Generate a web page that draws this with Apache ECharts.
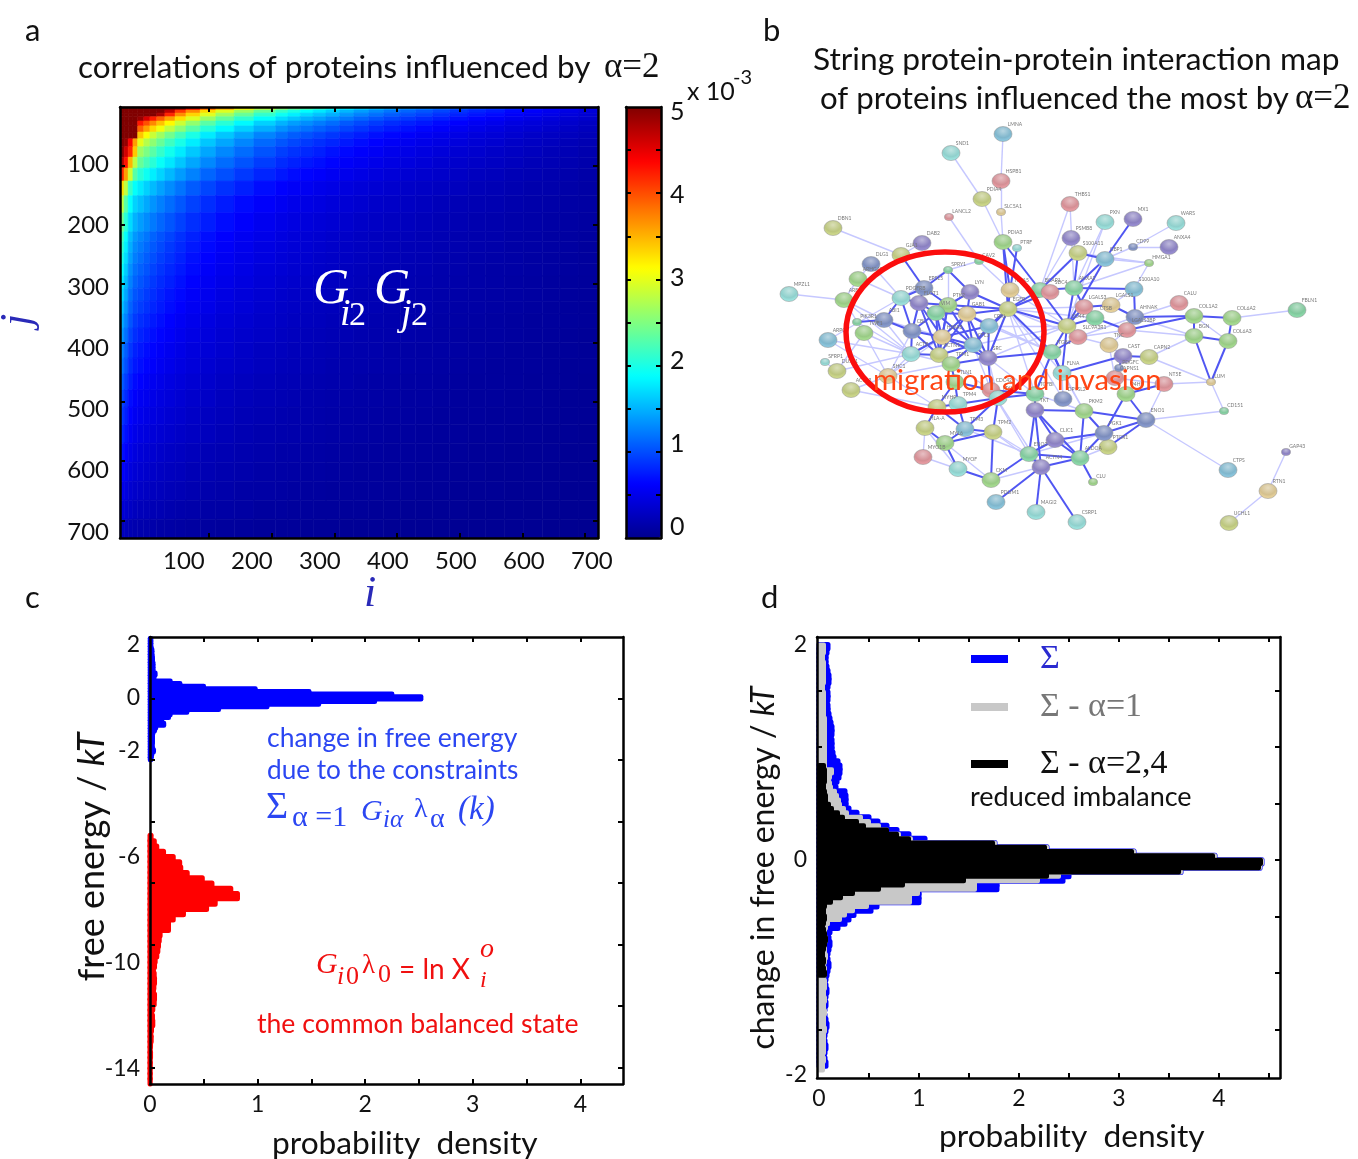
<!DOCTYPE html>
<html><head><meta charset="utf-8">
<style>html,body{margin:0;padding:0;background:#fff}#c{width:1358px;height:1159px}</style>
<script src="https://cdn.jsdelivr.net/npm/echarts@6/dist/echarts.min.js"></script>
</head><body><div id="c"></div>
<script>
const SANS='Lato, "Noto Sans", sans-serif', SERIF='"Liberation Serif", serif';
// ---------- panel a : cell edges (protein rank) and values (x 10^-3)
const iEdges=[6,12,18,25,32,41,50,60,72,87,103,124,147,174,203,235,253,271,290,309,329,350,372,394,418,441,466,491,518,544,572,600,627,653,681,709];
const jEdges=[6,11,16,22,29,37,47,58,71,88,106,127,151,179,210,226,244,262,282,302,323,344,367,391,416,442,468,496,525,555,586,617,648,679,710];
const corrMatrix=[
[5,5,5,5,5,5,5,5,5,4.92,4.44,3.96,3.55,3.17,2.83,2.57,2.4,2.26,2.11,1.97,1.82,1.68,1.56,1.44,1.34,1.25,1.15,1.06,.96,.89,.79,.72,.65,.58,.5],
[5,5,5,5,5,5,5,5,4.7,4.1,3.7,3.3,2.96,2.64,2.36,2.14,2,1.88,1.76,1.64,1.52,1.4,1.3,1.2,1.12,1.04,.96,.88,.8,.74,.66,.6,.54,.48,.42],
[5,5,5,5,5,5,5,4.8,4.2,3.69,3.33,2.97,2.66,2.38,2.12,1.93,1.8,1.69,1.58,1.48,1.37,1.26,1.17,1.08,1.01,.94,.86,.79,.72,.67,.59,.54,.49,.43,.38],
[5,5,5,5,4.88,4.56,4.24,3.92,3.6,3.28,2.96,2.64,2.37,2.11,1.89,1.71,1.6,1.5,1.41,1.31,1.22,1.12,1.04,.96,.9,.83,.77,.7,.64,.59,.53,.48,.43,.38,.34],
[5,5,5,5,4.27,3.99,3.71,3.43,3.15,2.87,2.59,2.31,2.07,1.85,1.65,1.5,1.4,1.32,1.23,1.15,1.06,.98,.91,.84,.78,.73,.67,.62,.56,.52,.46,.42,.38,.34,.29],
[5,5,5,5,3.9,3.6,3.31,3.06,2.81,2.56,2.31,2.06,1.85,1.65,1.48,1.34,1.25,1.18,1.1,1.03,.95,.88,.81,.75,.7,.65,.6,.55,.5,.46,.41,.38,.34,.3,.26],
[5,5,5,5,3.4,3.1,2.86,2.65,2.43,2.21,2,1.78,1.6,1.43,1.27,1.16,1.08,1.02,.95,.89,.82,.76,.7,.65,.6,.56,.52,.48,.43,.4,.36,.32,.29,.26,.23],
[5,4.9,4.4,3.6,3,2.76,2.57,2.38,2.18,1.99,1.79,1.6,1.44,1.28,1.14,1.04,.97,.91,.85,.8,.74,.68,.63,.58,.54,.5,.47,.43,.39,.36,.32,.29,.26,.23,.2],
[5,4.6,4.2,3.4,2.65,2.48,2.31,2.13,1.96,1.78,1.61,1.44,1.29,1.15,1.03,.93,.87,.82,.77,.71,.66,.61,.57,.52,.49,.45,.42,.38,.35,.32,.29,.26,.23,.21,.18],
[4.8,4.3,3.5,2.8,2.38,2.22,2.07,1.91,1.76,1.6,1.44,1.29,1.15,1.03,.92,.83,.78,.73,.69,.64,.59,.55,.51,.47,.44,.41,.37,.34,.31,.29,.26,.23,.21,.19,.16],
[4.2,3.6,2.9,2.3,2.07,1.94,1.8,1.67,1.53,1.39,1.26,1.12,1.01,.9,.8,.73,.68,.64,.6,.56,.52,.48,.44,.41,.38,.35,.33,.3,.27,.25,.22,.2,.18,.16,.14],
[3.3,2.8,2.15,1.89,1.77,1.65,1.54,1.42,1.31,1.19,1.07,.96,.86,.77,.68,.62,.58,.55,.51,.48,.44,.41,.38,.35,.32,.3,.28,.26,.23,.21,.19,.17,.16,.14,.12],
[2.8,2.3,1.89,1.66,1.56,1.45,1.35,1.25,1.15,1.05,.94,.84,.75,.67,.6,.55,.51,.48,.45,.42,.39,.36,.33,.31,.29,.27,.24,.22,.2,.19,.17,.15,.14,.12,.11],
[2.44,2.07,1.7,1.5,1.4,1.31,1.22,1.13,1.04,.94,.85,.76,.68,.61,.54,.49,.46,.43,.4,.38,.35,.32,.3,.28,.26,.24,.22,.2,.18,.17,.15,.14,.12,.11,.1],
[2.23,1.89,1.55,1.37,1.28,1.2,1.11,1.03,.95,.86,.78,.69,.62,.55,.5,.45,.42,.39,.37,.34,.32,.29,.27,.25,.24,.22,.2,.18,.17,.16,.14,.13,.11,.1,.09],
[2.12,1.8,1.48,1.3,1.22,1.14,1.06,.98,.9,.82,.74,.66,.59,.53,.47,.43,.4,.38,.35,.33,.3,.28,.26,.24,.22,.21,.19,.18,.16,.15,.13,.12,.11,.1,.08],
[2.01,1.71,1.41,1.24,1.16,1.08,1.01,.93,.86,.78,.7,.63,.56,.5,.45,.41,.38,.36,.33,.31,.29,.27,.25,.23,.21,.2,.18,.17,.15,.14,.13,.11,.1,.09,.08],
[1.91,1.62,1.33,1.17,1.1,1.03,.95,.88,.81,.74,.67,.59,.53,.48,.42,.39,.36,.34,.32,.3,.27,.25,.23,.22,.2,.19,.17,.16,.14,.13,.12,.11,.1,.09,.08],
[1.8,1.53,1.26,1.11,1.04,.97,.9,.83,.77,.7,.63,.56,.5,.45,.4,.36,.34,.32,.3,.28,.26,.24,.22,.2,.19,.18,.16,.15,.14,.13,.11,.1,.09,.08,.07],
[1.7,1.44,1.18,1.04,.98,.91,.85,.78,.72,.66,.59,.53,.47,.42,.38,.34,.32,.3,.28,.26,.24,.22,.21,.19,.18,.17,.15,.14,.13,.12,.11,.1,.09,.08,.07],
[1.59,1.35,1.11,.98,.92,.86,.8,.74,.68,.62,.56,.5,.44,.4,.35,.32,.3,.28,.26,.25,.23,.21,.2,.18,.17,.16,.14,.13,.12,.11,.1,.09,.08,.07,.06],
[1.48,1.26,1.04,.91,.85,.8,.74,.69,.63,.57,.52,.46,.41,.37,.33,.3,.28,.26,.25,.23,.21,.2,.18,.17,.16,.15,.13,.12,.11,.1,.09,.08,.08,.07,.06],
[1.38,1.17,.96,.85,.79,.74,.69,.64,.59,.53,.48,.43,.38,.34,.31,.28,.26,.24,.23,.21,.2,.18,.17,.16,.15,.14,.12,.11,.1,.1,.09,.08,.07,.06,.05],
[1.27,1.08,.89,.78,.73,.68,.64,.59,.54,.49,.44,.4,.36,.32,.28,.26,.24,.23,.21,.2,.18,.17,.16,.14,.13,.12,.12,.11,.1,.09,.08,.07,.06,.06,.05],
[1.19,1.01,.83,.73,.69,.64,.6,.55,.51,.46,.42,.37,.33,.3,.27,.24,.23,.21,.2,.18,.17,.16,.15,.14,.13,.12,.11,.1,.09,.08,.07,.07,.06,.05,.05],
[1.09,.92,.76,.67,.63,.58,.54,.5,.46,.42,.38,.34,.3,.27,.24,.22,.21,.19,.18,.17,.16,.14,.13,.12,.11,.11,.1,.09,.08,.08,.07,.06,.06,.05,.04],
[.98,.83,.68,.6,.56,.53,.49,.45,.42,.38,.34,.31,.27,.24,.22,.2,.19,.17,.16,.15,.14,.13,.12,.11,.1,.1,.09,.08,.07,.07,.06,.06,.05,.04,.04],
[.9,.77,.63,.55,.52,.48,.45,.42,.38,.35,.31,.28,.25,.22,.2,.18,.17,.16,.15,.14,.13,.12,.11,.1,.1,.09,.08,.07,.07,.06,.06,.05,.05,.04,.04],
[.82,.7,.57,.5,.47,.44,.41,.38,.35,.32,.29,.26,.23,.2,.18,.17,.16,.15,.14,.13,.12,.11,.1,.09,.09,.08,.07,.07,.06,.06,.05,.05,.04,.04,.03],
[.72,.61,.5,.44,.41,.38,.36,.33,.3,.28,.25,.22,.2,.18,.16,.14,.14,.13,.12,.11,.1,.09,.09,.08,.08,.07,.06,.06,.05,.05,.04,.04,.04,.03,.03],
[.64,.54,.44,.39,.37,.34,.32,.29,.27,.25,.22,.2,.18,.16,.14,.13,.12,.11,.11,.1,.09,.08,.08,.07,.07,.06,.06,.05,.05,.04,.04,.04,.03,.03,.03],
[.53,.45,.37,.33,.31,.29,.27,.25,.23,.21,.19,.17,.15,.13,.12,.11,.1,.09,.09,.08,.08,.07,.07,.06,.06,.05,.05,.04,.04,.04,.03,.03,.03,.02,.02],
[.42,.36,.3,.26,.24,.23,.21,.2,.18,.16,.15,.13,.12,.11,.09,.09,.08,.08,.07,.07,.06,.06,.05,.05,.04,.04,.04,.04,.03,.03,.03,.02,.02,.02,.02],
[.29,.25,.2,.18,.17,.16,.15,.13,.12,.11,.1,.09,.08,.07,.06,.06,.06,.05,.05,.05,.04,.04,.04,.03,.03,.03,.03,.02,.02,.02,.02,.02,.01,.01,.01]];
const heatTicks=[100,200,300,400,500,600,700];
const colorbarLabels=[0,1,2,3,4,5];
const colorbarTicks=[.5,1,1.5,2,2.5,3,3.5,4,4.5];
const jetColors=['#00008f','#0000ff','#0080ff','#00ffff','#80ff80','#ffff00','#ff8000','#ff0000','#800000'];
// ---------- panel b : STRING network
const netNodes=[['LMNA',1003,134],['SND1',951,153],['HSPB1',1001,181],['PDIA4',982,199],['SLC5A1',1001,212],['LANCL2',949,217],['PDIA3',1003,242],['PTRF',1017,248],['DAB2',922,243],['DBN1',833,228],['GJA1',901,255],['DLG1',871,264],['SPRY1',948,270],['CAV2',979,261],['ARHGAP1',858,279],['EPS15',924,288],['LYN',970,292],['MPZL1',789,294],['ARF6',844,300],['PDGFRB',901,298],['FLOT1',919,303],['PTK2',948,305],['VIM',936,313],['GAB1',967,314],['ITGA5',1010,290],['EGFR',1008,309],['BCAR1',1040,290],['SDC4',1050,292],['PIK3R1',857,322],['ABI1',884,320],['TWF1',864,333],['CBL',912,331],['CRKL',989,326],['ARPC2',828,340],['HSPA8',942,337],['CFL1',973,345],['ACTB',911,354],['ACTN1',939,355],['TPM1',951,364],['SRC',988,358],['SFRP1',825,362],['DUSP1',837,371],['SHC1',888,376],['ACTR3',851,390],['TLN1',955,382],['CDC42',991,390],['MYL9',998,398],['MYH9',937,407],['TPM4',958,404],['TGFBI',1035,394],['ITGB1',1052,352],['FLNA',1062,373],['TKT',1035,410],['HLA-A',925,428],['TPM3',965,429],['TPM2',993,432],['CLIC1',1055,440],['MYL6',945,443],['MYO1B',923,457],['ENO2',1029,454],['ACTN4',1041,467],['MYOF',958,469],['CKM',991,480],['PDLIM1',996,502],['MAGI2',1036,512],['CSRP1',1077,522],['CLU',1093,482],['ALDOA',1080,458],['PTGR1',1108,447],['PGK1',1104,433],['ENO1',1146,420],['PKM2',1084,411],['DPYSL2',1063,399],['CTPS',1228,470],['GAP43',1286,452],['RTN1',1268,491],['UCHL1',1229,523],['CD151',1224,411],['LUM',1211,382],['NT5E',1164,384],['P4HB',1126,394],['CAPNS1',1115,378],['PDGFC',1119,368],['CAST',1123,356],['CAPN2',1149,357],['TNC',1109,345],['SLC9A3R1',1078,337],['CD44',1067,326],['CTSB',1095,318],['LGALS3',1084,307],['LGALS1',1111,305],['AHNAK',1135,317],['LGALS3BP',1127,330],['COL1A2',1194,316],['BGN',1194,336],['COL6A3',1228,341],['COL6A2',1232,318],['FBLN1',1297,310],['CALU',1179,303],['S100A10',1134,289],['ANXA2',1074,288],['HMGA1',1149,263],['GBP1',1105,259],['S100A11',1078,253],['CD99',1133,247],['ANXA4',1169,247],['PSMB8',1071,238],['THBS1',1070,204],['PXN',1105,222],['MX1',1133,219],['WARS',1176,223]];
const netStrong=[[16,22],[16,21],[16,20],[17,22],[17,24],[17,26],[17,23],[20,21],[20,30],[20,32],[21,22],[21,23],[21,32],[21,35],[22,23],[22,24],[22,26],[22,35],[22,36],[23,24],[23,35],[23,32],[24,26],[24,36],[24,35],[24,33],[26,25],[26,33],[26,36],[26,40],[26,27],[26,88],[26,51],[25,7],[26,7],[8,25],[7,27],[30,32],[30,29],[32,35],[32,37],[32,38],[35,36],[35,38],[35,37],[36,38],[36,40],[36,39],[38,39],[37,38],[39,40],[40,46],[40,33],[40,51],[33,36],[33,35],[35,40],[23,36],[23,38],[21,38],[22,38],[24,38],[24,40],[16,11],[16,13],[13,17],[46,47],[47,49],[48,49],[45,49],[48,45],[39,45],[45,46],[47,56],[47,55],[49,55],[48,55],[48,54],[54,58],[55,58],[56,58],[58,62],[55,56],[56,63],[50,47],[50,46],[51,50],[51,52],[50,53],[53,60],[53,57],[53,61],[53,72],[53,68],[57,60],[57,68],[60,61],[61,68],[61,64],[61,65],[61,66],[60,68],[68,72],[68,67],[72,70],[70,71],[72,71],[70,68],[70,57],[71,69],[71,81],[80,81],[81,70],[51,88],[88,87],[88,90],[88,89],[88,101],[88,27],[27,101],[27,28],[101,90],[89,90],[89,93],[90,91],[91,92],[93,92],[92,100],[100,101],[103,101],[103,104],[104,27],[104,101],[110,103],[103,88],[94,95],[94,97],[95,96],[97,96],[95,79],[96,79],[92,94],[93,94],[84,85],[84,82],[84,52],[52,88],[52,51],[51,87],[28,26],[60,63],[62,63]];
const netWeak=[[1,3],[3,5],[5,7],[2,4],[4,7],[6,14],[10,11],[9,11],[12,20],[15,19],[18,19],[19,30],[19,37],[34,20],[34,37],[42,37],[44,43],[41,42],[43,35],[43,39],[15,20],[12,15],[14,25],[14,13],[13,20],[108,27],[108,101],[109,101],[105,103],[105,106],[111,105],[102,103],[102,101],[102,104],[100,102],[107,104],[107,27],[109,88],[97,98],[99,92],[91,100],[79,78],[79,80],[71,78],[71,74],[79,85],[85,95],[76,75],[76,77],[80,82],[82,86],[87,86],[86,93],[86,84],[87,93],[87,92],[93,95],[92,95],[26,73],[26,52],[26,50],[40,50],[40,47],[25,88],[51,72],[52,72],[52,73],[50,72],[46,61],[46,60],[43,48],[44,48],[31,43],[31,42],[34,43],[29,37],[37,39],[37,43],[36,46],[38,46],[32,43],[60,55],[56,60],[56,61],[61,63],[54,59],[58,63],[59,62],[54,62],[60,70],[57,70],[69,70],[68,69],[26,87],[26,90],[26,89],[36,88],[40,88],[33,88],[24,51],[33,51],[30,35],[30,37],[31,37],[19,31],[22,13],[80,71],[94,96]];
const netPalette={1:'#7fb6cc',2:'#8fd0cc',3:'#d48e94',4:'#bcc67e',5:'#d4c08e',6:'#98ca84',7:'#7b8cbc',8:'#8a80c0',9:'#80c89c'};
const netTone=[1,2,3,4,5,3,6,2,8,4,4,7,9,9,6,7,8,2,6,2,8,6,9,5,5,4,9,3,9,7,6,7,1,1,5,1,2,4,6,8,2,4,5,4,6,3,2,4,2,9,9,2,8,4,1,4,8,6,3,9,8,2,6,1,2,2,6,9,4,7,7,6,7,1,8,5,4,9,5,3,6,3,7,8,4,5,3,4,9,3,5,7,3,6,6,6,6,9,3,1,9,6,1,4,7,8,8,3,2,8,2];
const netSmall=['SLC5A1','LANCL2','PTRF','SPRY1','CAV2','PIK3R1','SFRP1','CLU','GAP43','CD151','LUM','PDGFC','HMGA1','CD99'];
// ---------- panel c : histograms (density per bin)
const freeTop=2.2, freeStep=.1;
const freeDensity=[.01,.01,.01,.01,.02,.02,.02,.025,.025,.03,.03,.03,.03,.05,.04,.03,.19,.28,.5,.98,1.48,2.25,2.52,2.09,1.57,1.09,.64,.345,.19,.175,.11,.11,.13,.055,.045,.03,.025,.025,.025,.025,.02,.025,.035,.02,.015,.01];
const balTop=-5.3, balStep=.2;
const balDensity=[.01,.04,.063,.126,.216,.276,.286,.346,.486,.576,.751,.813,.606,.526,.311,.216,.172,.172,.094,.086,.079,.073,.063,.048,.042,.032,.039,.042,.036,.032,.042,.039,.026,.016,.023,.026,.014,.008,.011,.005,.002,.005,.002,.003,.002,.002,.002];
const cXLabels=[0,1,2,3,4], cXTicks=[.5,1,1.5,2,2.5,3,3.5,4], cYLabels=[2,0,-2,-6,-10,-14], cYTicks=[0,-2,-4,-6,-8,-10,-12];
// ---------- panel d : histograms
const dStep=.04, sumTop=1.98, minus1Top=1.98, minus24Top=.86;
const sumDensity=[.09,.08,.07,.07,.07,.08,.09,.1,.1,.09,.08,.09,.09,.08,.09,.09,.1,.11,.12,.13,.13,.12,.13,.13,.13,.14,.15,.19,.21,.21,.2,.18,.16,.17,.26,.27,.27,.27,.3,.38,.5,.59,.68,.78,.9,1.06,1.76,2.28,3.15,3.96,4.43,4.41,3.62,2.5,2.44,1.78,1.78,1,1,1,.58,.52,.35,.3,.26,.19,.11,.09,.1,.11,.1,.09,.08,.09,.1,.09,.08,.07,.06,.07,.08,.07,.06,.07,.06,.05,.06,.07,.08,.07,.06,.05,.06,.07,.06,.05,.06,.07];
const minus1Density=[.05,.05,.04,.04,.05,.05,.05,.05,.05,.04,.04,.05,.05,.05,.05,.05,.05,.06,.06,.06,.06,.06,.06,.06,.06,.06,.06,.06,.06,.13,.11,.1,.11,.12,.16,.18,.2,.21,.25,.28,.42,.5,.6,.68,.8,.92,1.76,2.28,3.15,3.96,4.43,4.41,3.62,2.4,2.19,1.56,1.56,.99,.91,.91,.48,.34,.26,.21,.09,.07,.06,.06,.07,.06,.06,.06,.07,.06,.05,.06,.06,.05,.06,.06,.05,.05,.06,.05,.05,.06,.05,.05,.05,.06,.05,.05,.05,.05,.05,.04,.05,.04,.04];
const minus24Density=[.05,.06,.06,.06,.05,.05,.06,.07,.07,.1,.13,.19,.24,.38,.45,.68,.78,.9,1.74,2.26,3.13,3.94,4.42,4.4,3.6,2.28,1.45,.84,.6,.34,.22,.12,.06,.05,.05,.06,.05,.04,.05,.06,.07,.06,.05,.04,.04,.05,.04,.05,.06];
const dXLabels=[0,1,2,3,4], dXTicks=[.5,1,1.5,2,2.5,3,3.5,4,4.5], dYLabels=[2,0,-2], dYTicks=[-1.5,-1,-.5,0,.5,1,1.5];

// ---------- layout
const grids=[
 {left:120,top:107,width:478,height:431},
 {left:626,top:107,width:35,height:431},
 {left:770,top:120,width:588,height:420},
 {left:150,top:637,width:473,height:447},
 {left:817,top:637,width:463,height:441}
];
const LINE={show:true,onZero:false,lineStyle:{color:'#000',width:2.5}}, NOLINE={show:false,onZero:false};
const lab=(vals,margin,size)=>({show:true,customValues:vals,margin,fontSize:size||23,color:'#111',fontFamily:SANS,hideOverlap:false});
const tick=(vals,len)=>({show:true,inside:true,length:len||5,customValues:vals,lineStyle:{color:'#000',width:2}});
const ax=(g,pos,min,max,o)=>Object.assign({type:'value',gridIndex:g,position:pos,min,max,z:10,splitLine:{show:false},axisLine:NOLINE,axisTick:{show:false},axisLabel:{show:false}},o||{});
const xAxes=[
 ax(0,'bottom',6,709,{axisLine:LINE,axisLabel:lab(heatTicks,11,24)}),
 ax(0,'bottom',-42,720.7,{axisTick:tick(heatTicks)}),
 ax(0,'top',-42,720.7,{axisLine:LINE,axisTick:tick(heatTicks)}),
 ax(1,'bottom',0,1,{axisLine:LINE}),
 ax(1,'top',0,1,{axisLine:LINE}),
 ax(2,'bottom',770,1358,{show:false}),
 ax(3,'bottom',0,4.396,{axisLine:LINE,axisLabel:lab(cXLabels,9),axisTick:tick(cXTicks)}),
 ax(3,'top',0,4.396,{axisLine:LINE,axisTick:tick(cXTicks)}),
 ax(4,'bottom',-.02,4.61,{axisLine:LINE,axisLabel:lab(dXLabels,9),axisTick:tick(dXTicks)}),
 ax(4,'top',-.02,4.61,{axisLine:LINE,axisTick:tick(dXTicks)})
];
const yAxes=[
 ax(0,'left',6.1,709.8,{inverse:true,axisLine:LINE,axisLabel:lab(heatTicks,11,24)}),
 ax(0,'left',0,730,{inverse:true,axisTick:tick(heatTicks)}),
 ax(0,'right',0,730,{inverse:true,axisLine:LINE,axisTick:tick(heatTicks)}),
 ax(1,'right',-.13,5.06,{axisLabel:lab(colorbarLabels,9,25)}),
 ax(1,'left',0,5,{axisLine:LINE,axisTick:tick(colorbarTicks)}),
 ax(1,'right',0,5,{axisLine:LINE,axisTick:tick(colorbarTicks)}),
 ax(2,'left',120,540,{show:false,inverse:true}),
 ax(3,'left',-14.6,2.3,{axisLine:LINE,axisLabel:lab(cYLabels,10)}),
 ax(3,'left',-12.54,2,{axisTick:tick(cYTicks)}),
 ax(3,'right',-12.54,2,{axisLine:LINE,axisTick:tick(cYTicks)}),
 ax(4,'left',-2.03,2.07,{axisLine:LINE,axisLabel:lab(dYLabels,10)}),
 ax(4,'left',-1.93,1.973,{axisTick:tick(dYTicks)}),
 ax(4,'right',-1.93,1.973,{axisLine:LINE,axisTick:tick(dYTicks)})
];
// ---------- series
const heatData=[];
corrMatrix.forEach((row,r)=>row.forEach((v,c)=>heatData.push([iEdges[c],iEdges[c+1],jEdges[r],jEdges[r+1],v])));
const heatSeries={type:'custom',name:'correlation',xAxisIndex:0,yAxisIndex:0,data:heatData,encode:{x:[0,1],y:[2,3]},
 renderItem(p,api){const a=api.coord([api.value(0),api.value(2)]),b=api.coord([api.value(1),api.value(3)]),col=api.visual('color');
  return {type:'rect',shape:{x:a[0],y:a[1],width:b[0]-a[0],height:b[1]-a[1]},style:{fill:col,stroke:col,lineWidth:.6}};}};
function histSeries(name,color,top,step,vals,xi,yi,lw,z){
 return {type:'custom',name,xAxisIndex:xi,yAxisIndex:yi,z,itemStyle:{color},encode:{x:0,y:1},
  data:vals.map((v,k)=>[v,top-k*step]),
  renderItem(p,api){const a=api.coord([0,api.value(1)+step/2]),b=api.coord([api.value(0),api.value(1)-step/2]);
   return {type:'rect',shape:{x:a[0],y:a[1],width:b[0]-a[0],height:b[1]-a[1]},style:{fill:color,stroke:color,lineWidth:lw,lineJoin:'round'}};}};
}
const shade=hex=>({type:'radial',x:.5,y:.3,r:.8,colorStops:[{offset:0,color:echarts.color.lift(hex,.45)},{offset:.55,color:hex},{offset:1,color:echarts.color.lift(hex,-.2)}]});
const netSeries={type:'graph',coordinateSystem:'cartesian2d',xAxisIndex:5,yAxisIndex:6,silent:true,z:3,
 data:netNodes.map((n,k)=>{const small=netSmall.includes(n[0]);return {name:n[0],value:[n[1],n[2]],symbolSize:small?[9,7]:[18,15],
  itemStyle:{color:shade(netPalette[netTone[k]]),borderColor:'#8a8a8a',borderWidth:.5},
  label:{show:true,position:[small?8:14,-4],formatter:n[0],fontSize:5,color:'#777',fontFamily:SANS}};}),
 links:netWeak.map(l=>({source:l[0]-1,target:l[1]-1,lineStyle:{color:'#c6c8ff',width:1.4,opacity:1}})).concat(
  netStrong.map(l=>({source:l[0]-1,target:l[1]-1,lineStyle:{color:'#5056f2',width:2,opacity:1}})))};
const series=[heatSeries,netSeries,
 histSeries('change in free energy','#0000ff',freeTop,freeStep,freeDensity,6,7,4.5,3),
 histSeries('the common balanced state','#ff0000',balTop,balStep,balDensity,6,7,5,3),
 histSeries('Σ','#0000ff',sumTop,dStep,sumDensity,8,10,5,3),
 histSeries('Σ - α=1','#c8c8c8',minus1Top,dStep,minus1Density,8,10,4,4),
 histSeries('Σ - α=2,4','#000000',minus24Top,dStep,minus24Density,8,10,4,5)
];
// ---------- text
const T=(x,y,text,size,fill,o)=>({type:'text',x,y,z:100,silent:true,style:Object.assign({text,fontSize:size,fill,fontFamily:SANS,textAlign:'left',textVerticalAlign:'middle'},o||{})});
const TR=(x,y,text,size,fill,rot,o)=>Object.assign(T(x,y,text,size,fill,o),{rotation:rot});
const M={fontFamily:SERIF,fontStyle:'italic'};
const richLabel=s=>({textAlign:'center',rich:{a:{fontSize:s,fontFamily:SANS,fill:'#111'},b:{fontSize:s,fontFamily:SANS,fontStyle:'italic',fill:'#111'}}});
const graphicEls=[
 T(25,31,'a',31,'#111'),T(763,31,'b',31,'#111'),T(25,598,'c',31,'#111'),T(761,598,'d',31,'#111'),
 T(78,68,'correlations of proteins influenced by',31.4,'#111'),T(604,68,'α=2',35,'#111',{fontFamily:SERIF}),
 T(813,60,'String protein-protein interaction map',31.7,'#111'),
 T(820,99,'of proteins influenced the most by',31.2,'#111'),T(1295,99,'α=2',35,'#111',{fontFamily:SERIF}),
 T(687,92,'x 10',25,'#111'),T(733,78,'-3',20,'#111'),
 // G_i2 G_j2
 T(313,290,'G',50,'#fff',M),T(340,315,'i',38,'#fff',M),T(349,316,'2',34,'#fff',{fontFamily:SERIF}),
 T(374,290,'G',50,'#fff',M),T(401,315,'j',38,'#fff',M),T(411,316,'2',34,'#fff',{fontFamily:SERIF}),
 T(364,594,'i',44,'#2a2ab8',M),TR(18,326,'j',44,'#2a2ab8',Math.PI/2,M),
 // panel b annotation
 {type:'ellipse',z:90,silent:true,shape:{cx:945,cy:332,rx:99,ry:80},style:{fill:null,stroke:'#fb0d0d',lineWidth:5.5}},
 T(873,381,'migration and invasion',29.2,'#ff4514'),
 // panel c
 T(267,738,'change in free energy',26.5,'#2b46f2'),T(267,771,'due to the constraints',26.2,'#2b46f2'),
 T(266,808,'Σ',38,'#2b46f2',{fontFamily:SERIF}),T(292,818,'α =1',30,'#2b46f2',{fontFamily:SERIF}),
 T(361,812,'G',30,'#2b46f2',M),T(383,820,'iα',25,'#2b46f2',M),T(414,810,'λ',28,'#2b46f2',{fontFamily:SERIF}),T(430,820,'α',28,'#2b46f2',{fontFamily:SERIF}),T(458,810,'(k)',33,'#2b46f2',M),
 T(316,965,'G',30,'#f01010',M),T(337,977,'i',26,'#f01010',M),T(346,977,'0',26,'#f01010',{fontFamily:SERIF}),T(362,966,'λ',27,'#f01010',{fontFamily:SERIF}),T(378,975,'0',26,'#f01010',{fontFamily:SERIF}),
 T(399,970,'= ln X',28,'#f01010'),T(480,950,'o',28,'#f01010',M),T(480,981,'i',24,'#f01010',M),
 T(257,1024,'the common balanced state',26.6,'#f01010'),
 T(272,1144,'probability  density',31.7,'#111'),
 TR(92,857,'{a|free energy / }{b|kT}',0,'#111',Math.PI/2,richLabel(36)),
 // panel d
 T(970,797,'reduced imbalance',27,'#111'),
 T(939,1137,'probability  density',31.7,'#111'),
 TR(764,868,'{a|change in free energy / }{b|kT}',0,'#111',Math.PI/2,richLabel(32))
];
const legendAt=(name,top,color)=>({show:true,left:971,top,padding:0,orient:'horizontal',selectedMode:false,icon:'rect',itemWidth:37,itemHeight:8,data:[name],textStyle:{color,fontSize:34,fontFamily:SERIF,padding:[0,0,0,27]}});
const chart=echarts.init(document.getElementById('c'),null,{renderer:'canvas'});
chart.setOption({animation:false,backgroundColor:'#fff',grid:grids,xAxis:xAxes,yAxis:yAxes,series,
 visualMap:{type:'continuous',seriesIndex:0,dimension:4,min:0,max:5,left:626,top:107,padding:0,itemWidth:35,itemHeight:431,text:['',''],textGap:0,calculable:false,realtime:false,inRange:{color:jetColors},showLabel:false,itemSymbol:'rect',handleStyle:{opacity:0},indicatorStyle:{opacity:0}},
 legend:[legendAt('Σ',642,'#2a2ad0'),legendAt('Σ - α=1',690,'#777'),legendAt('Σ - α=2,4',747,'#111')],
 graphic:graphicEls});
</script></body></html>
